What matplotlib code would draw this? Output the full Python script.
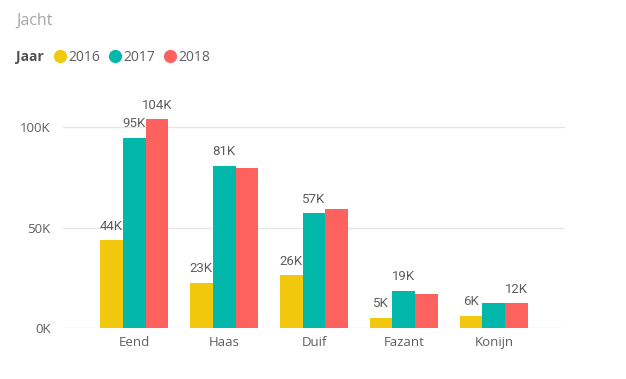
import matplotlib
matplotlib.use("Agg")
import matplotlib.pyplot as plt
import numpy as np
from matplotlib.lines import Line2D

# ---- data (thousands) ----
categories = ["Eend", "Haas", "Duif", "Fazant", "Konijn"]
years = ["2016", "2017", "2018"]
v2016 = [43.7, 22.6, 26.3, 5.2, 6.2]
v2017 = [94.8, 80.9, 57.1, 18.6, 12.3]
v2018 = [103.9, 79.8, 59.4, 16.8, 12.4]
# which data labels are visible (Power BI hides overlapping ones)
show2016 = [True, True, True, True, True]
show2017 = [True, True, True, True, False]
show2018 = [True, False, False, False, True]
yticks = [0, 50, 100]
ytick_labels = ["0K", "50K", "100K"]
title = "Jacht"
legend_title = "Jaar"

colors = ["#F2C80F", "#01B8AA", "#FD625E"]
text_gray = "#605E5C"
font = "Open Sans"

fig = plt.figure(figsize=(6.26, 3.79), dpi=100)
ax = fig.add_axes([63 / 626, 1 - 328 / 379, (565 - 63) / 626, (328 - 100) / 379])

x = np.arange(len(categories))
bw = 0.255
series = [v2016, v2017, v2018]
shows = [show2016, show2017, show2018]
for i, (vals, show) in enumerate(zip(series, shows)):
    xs = x + (i - 1) * bw
    ax.bar(xs, vals, width=bw, color=colors[i], zorder=3, linewidth=0)
    for xx, v, s in zip(xs, vals, show):
        if s:
            ax.annotate(f"{round(v)}K", (xx, v), xytext=(0, 7.5), textcoords="offset points",
                        ha="center", va="baseline", fontsize=9.5, color=text_gray,
                        family="Roboto", zorder=4)

ax.set_xlim(-0.79, 4.79)
ax.set_ylim(0, 113.6)
ax.set_yticks(yticks)
ax.set_yticklabels(ytick_labels)
ax.set_xticks(x)
ax.set_xticklabels(categories)
for lbl in ax.get_xticklabels() + ax.get_yticklabels():
    lbl.set_family(font)
    lbl.set_fontsize(9.5)
    lbl.set_color(text_gray)
ax.tick_params(axis="both", length=0)
ax.tick_params(axis="y", pad=9)
ax.tick_params(axis="x", pad=6)
ax.grid(axis="y", color="#E6E6E6", linewidth=1, zorder=0)
for sp in ax.spines.values():
    sp.set_visible(False)

# title
fig.text(16 / 626, 1 - 21 / 379, title, fontsize=11.5, color="#A6A6A6", family=font,
         ha="left", va="center")

# legend
ly = 1 - 57.5 / 379
fig.text(16 / 626, ly, legend_title, fontsize=10, color="#505050", family=font,
         weight="bold", ha="left", va="center")
handles = [Line2D([], [], marker="o", linestyle="", markersize=9.5, color=c,
                  markeredgewidth=0) for c in colors]
leg = fig.legend(handles, years, loc="center left", bbox_to_anchor=(52 / 626, ly),
                 ncol=3, frameon=False, handletextpad=0.0, columnspacing=0.45,
                 handlelength=1.2, borderaxespad=0, borderpad=0,
                 prop={"family": font, "size": 10})
for t in leg.get_texts():
    t.set_color(text_gray)

fig.savefig("out.png", dpi=100)
